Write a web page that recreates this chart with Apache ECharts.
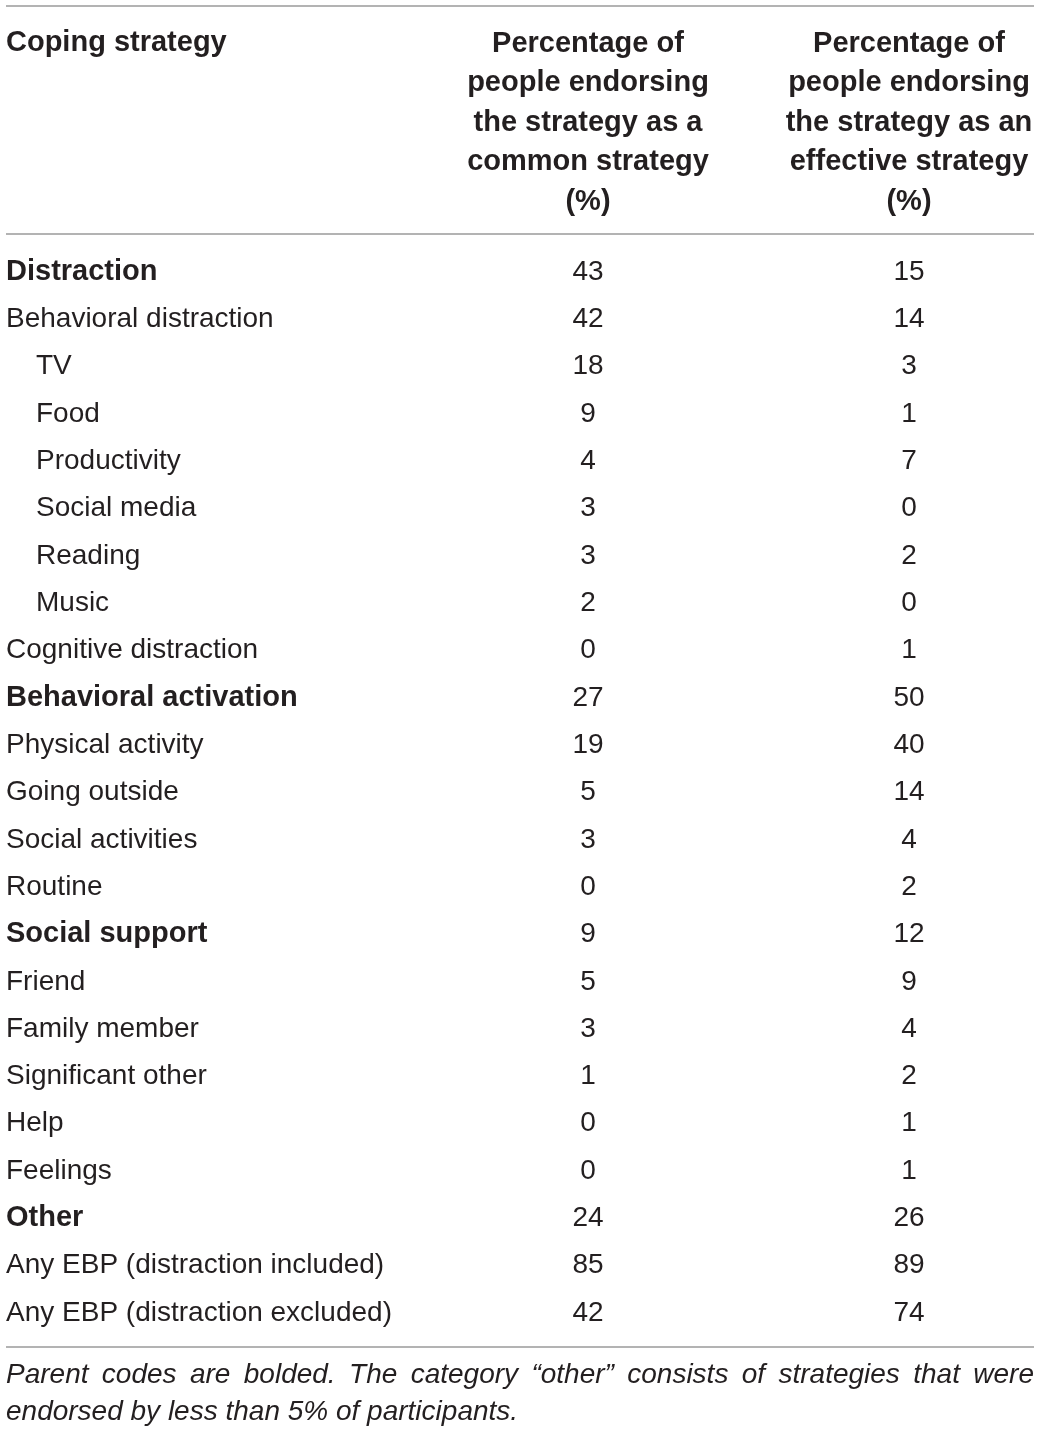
<!DOCTYPE html>
<html>
<head>
<meta charset="utf-8">
<script src="https://cdn.jsdelivr.net/npm/echarts@6/dist/echarts.min.js"></script>
<style>
html,body{margin:0;padding:0;background:#fff;}
#chart{width:1040px;height:1433px;}
</style>
</head>
<body>
<div id="chart"></div>
<script>
// ---- data ----
const rowLabels = [
  "Distraction", "Behavioral distraction", "TV", "Food", "Productivity",
  "Social media", "Reading", "Music", "Cognitive distraction",
  "Behavioral activation", "Physical activity", "Going outside",
  "Social activities", "Routine", "Social support", "Friend",
  "Family member", "Significant other", "Help", "Feelings", "Other",
  "Any EBP (distraction included)", "Any EBP (distraction excluded)"
];
const rowLevel = [
  "p", "c", "s", "s", "s", "s", "s", "s", "c",
  "p", "c", "c", "c", "c", "p", "c", "c", "c", "c", "c", "p", "c", "c"
];
const commonPct = [43, 42, 18, 9, 4, 3, 3, 2, 0, 27, 19, 5, 3, 0, 9, 5, 3, 1, 0, 0, 24, 85, 42];
const effectivePct = [15, 14, 3, 1, 7, 0, 2, 0, 1, 50, 40, 14, 4, 2, 12, 9, 4, 2, 1, 1, 26, 89, 74];
const columnHeaders = [
  "Percentage of\npeople endorsing\nthe strategy as a\ncommon strategy\n(%)",
  "Percentage of\npeople endorsing\nthe strategy as an\neffective strategy\n(%)"
];
const firstHeader = "Coping strategy";
const footLine1 = "Parent codes are bolded. The category \u201cother\u201d consists of strategies that were";
const footLine2 = "endorsed by less than 5% of participants.";

// ---- layout ----
const FONT = '"Liberation Sans", Arial, Helvetica, sans-serif';
const TXT = '#231f20';
const rowStep = 47.32;
const firstRowY = 272;
const gridTop = firstRowY - rowStep / 2;
const gridHeight = rowStep * rowLabels.length;
const colCenter1 = 588, colCenter2 = 909;
const leftX = 6, rightX = 1034;

const chart = echarts.init(document.getElementById('chart'), null, {renderer: 'canvas'});

// justified footnote line
const cv = document.createElement('canvas').getContext('2d');
const footFont = 'italic 28px ' + FONT;
cv.font = footFont;
const words = footLine1.split(' ');
const wWidths = words.map(w => cv.measureText(w).width);
const totalW = wWidths.reduce((a, b) => a + b, 0);
const gap = (rightX - leftX - totalW) / (words.length - 1);
const footGraphics = [];
let cx = leftX;
words.forEach((w, i) => {
  footGraphics.push({
    type: 'text', x: cx, y: 1375,
    style: {text: w, font: footFont, fill: TXT, textAlign: 'left', textVerticalAlign: 'middle'}
  });
  cx += wWidths[i] + gap;
});
footGraphics.push({
  type: 'text', x: leftX, y: 1412,
  style: {text: footLine2, font: footFont, fill: TXT, textAlign: 'left', textVerticalAlign: 'middle'}
});

const ruleStyle = {stroke: '#9a9a9a', lineWidth: 1.5};
const rules = [6, 234, 1347].map(y => ({
  type: 'line', shape: {x1: leftX, y1: y, x2: rightX, y2: y}, style: ruleStyle
}));

const option = {
  backgroundColor: '#fff',
  animation: false,
  title: {
    text: firstHeader, left: leftX, top: 28, padding: 0,
    textStyle: {fontFamily: FONT, fontSize: 29, fontWeight: 'bold', color: TXT}
  },
  grid: {left: colCenter1, top: gridTop, width: colCenter2 - colCenter1, height: gridHeight, containLabel: false},
  xAxis: {
    type: 'category', position: 'top', data: columnHeaders, boundaryGap: false,
    axisLine: {show: false}, axisTick: {show: false}, splitLine: {show: false},
    axisLabel: {
      interval: 0, margin: 26.5, fontFamily: FONT, fontSize: 29, fontWeight: 'bold',
      lineHeight: 39.6, color: TXT, align: 'center', verticalAlign: 'bottom'
    }
  },
  yAxis: {
    type: 'category', inverse: true, data: rowLabels,
    axisLine: {show: false}, axisTick: {show: false}, splitLine: {show: false},
    axisLabel: {
      interval: 0, align: 'left', margin: colCenter1 - leftX,
      formatter: (v, i) => '{' + rowLevel[i] + '|' + v + '}',
      rich: {
        p: {fontFamily: FONT, fontSize: 29, fontWeight: 'bold', color: TXT},
        c: {fontFamily: FONT, fontSize: 28, color: TXT},
        s: {fontFamily: FONT, fontSize: 28, color: TXT, padding: [0, 0, 0, 30]}
      }
    }
  },
  series: [commonPct, effectivePct].map((vals, ci) => ({
    type: 'scatter',
    symbolSize: 1,
    itemStyle: {color: '#ffffff', opacity: 1},
    data: vals.map((v, i) => [ci, i, v]),
    label: {
      show: true, position: 'inside', formatter: p => String(p.value[2]),
      fontFamily: FONT, fontSize: 28, color: TXT, textBorderWidth: 0
    },
    emphasis: {disabled: true}
  })),
  graphic: rules.concat(footGraphics)
};
chart.setOption(option);
</script>
</body>
</html>
